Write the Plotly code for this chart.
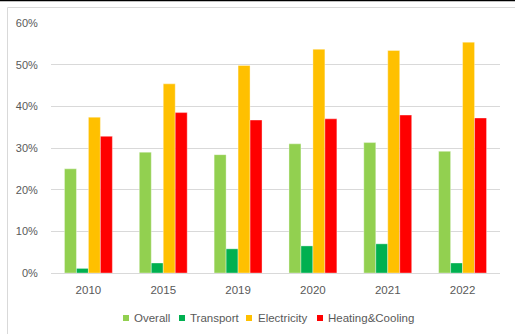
import plotly.graph_objects as go

years = ["2010", "2015", "2019", "2020", "2021", "2022"]
overall = [25.0, 29.0, 28.4, 31.0, 31.3, 29.2]
transport = [1.1, 2.4, 5.8, 6.5, 7.0, 2.4]
electricity = [37.4, 45.4, 49.8, 53.7, 53.4, 55.4]
heating = [32.8, 38.5, 36.7, 37.0, 37.9, 37.2]
series_names = ["Overall", "Transport", "Electricity", "Heating&Cooling"]
colors = ["#92D050", "#00B050", "#FFC000", "#FF0000"]
y_ticks = [0, 10, 20, 30, 40, 50, 60]
y_tick_labels = ["0%", "10%", "20%", "30%", "40%", "50%", "60%"]

W, H = 515, 334
L, R, T, B = 51, 15, 23, 61
PW, PH = W - L - R, H - T - B

def px_x(px):
    return (px - L) / PW

def px_y(py):
    return (H - B - py) / PH

FONT = "Liberation Sans"
GRAY_TXT = "#595959"

fig = go.Figure()
for name, vals, col in zip(series_names, [overall, transport, electricity, heating], colors):
    fig.add_trace(go.Bar(
        x=years, y=vals, name=name, marker_color=col,
        marker_line=dict(color="rgba(255,255,255,0.6)", width=0.6),
        showlegend=False,
    ))

shapes = []
# black line on top
shapes.append(dict(type="line", xref="paper", yref="paper",
                   x0=px_x(0), x1=px_x(W), y0=px_y(0.6), y1=px_y(0.6),
                   line=dict(color="black", width=1.5)))
# chart area border
shapes.append(dict(type="rect", xref="paper", yref="paper",
                   x0=px_x(7.5), x1=px_x(W + 20), y0=px_y(7.5), y1=px_y(H + 20),
                   line=dict(color="#d9d9d9", width=1)))

annotations = []
leg_sq = [123, 179, 246, 317]
leg_txt = [132, 188, 256, 326]
leg_y = 318
for name, col, sx, tx in zip(series_names, colors, leg_sq, leg_txt):
    shapes.append(dict(type="rect", xref="paper", yref="paper",
                       x0=px_x(sx), x1=px_x(sx + 6), y0=px_y(leg_y - 3), y1=px_y(leg_y + 3),
                       fillcolor=col, line=dict(width=0)))
    annotations.append(dict(text=name, xref="paper", yref="paper",
                            x=px_x(tx), y=px_y(leg_y), xanchor="left", yanchor="middle",
                            showarrow=False, font=dict(family=FONT, size=11.5, color=GRAY_TXT)))

fig.update_layout(
    width=W, height=H,
    margin=dict(l=L, r=R, t=T, b=B),
    paper_bgcolor="white", plot_bgcolor="white",
    barmode="group", bargap=0.36, bargroupgap=0,
    shapes=shapes, annotations=annotations,
    font=dict(family=FONT, size=11.5, color=GRAY_TXT),
)
fig.update_xaxes(type="category", showgrid=False, showline=False, zeroline=False,
                 tickfont=dict(family=FONT, size=11.5, color=GRAY_TXT),
                 ticks="outside", ticklen=6, tickcolor="rgba(0,0,0,0)")
fig.update_yaxes(range=[0, 60], tickmode="array", tickvals=y_ticks, ticktext=y_tick_labels,
                 showgrid=True, gridcolor="#d9d9d9", gridwidth=1,
                 zeroline=True, zerolinecolor="#d9d9d9", zerolinewidth=1,
                 showline=False,
                 tickfont=dict(family=FONT, size=11, color=GRAY_TXT),
                 ticks="outside", ticklen=10, tickcolor="rgba(0,0,0,0)")

fig.write_html("out.html")
